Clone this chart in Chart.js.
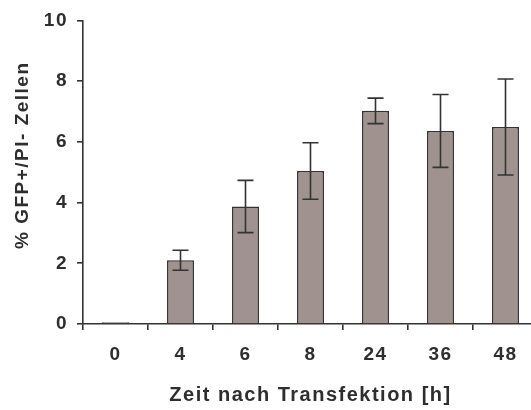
<!DOCTYPE html>
<html>
<head>
<meta charset="utf-8">
<script src="https://cdn.jsdelivr.net/npm/chart.js@4"></script>
<style>
  html, body { margin: 0; padding: 0; background: #fff; overflow: hidden; }
  /* Achse laeuft im Original rechts ueber den Rand hinaus */
  #wrap { width: 531px; height: 410px; overflow: hidden; }
</style>
</head>
<body>
<div id="wrap"><canvas id="gfpChart" width="538" height="410"></canvas></div>
<script>
// Daten
const zeiten = ['0', '4', '6', '8', '24', '36', '48'];
const mittelwerte = [0.06, 2.10, 3.87, 5.04, 7.02, 6.36, 6.49];
const fehler = [0, 0.33, 0.86, 0.93, 0.42, 1.2, 1.58];
const yTicks = [0, 2, 4, 6, 8, 10];

const textFarbe = '#2e2e2e';
const schrift = { family: 'Liberation Sans, Arial, sans-serif', weight: 'bold', size: 19 };
const titelSchriftX = { family: 'Liberation Sans, Arial, sans-serif', weight: 'bold', size: 20 };

// etwas breitere Laufweite wie im Original
const laufweite = {
    id: 'laufweite',
    beforeDraw(chart) { chart.ctx.letterSpacing = '1.5px'; }
};

// Fehlerbalken zeichnen (ueber die Skalen der Library)
const fehlerbalken = {
    id: 'fehlerbalken',
    afterDatasetsDraw(chart) {
        const ctx = chart.ctx;
        const x = chart.scales.x;
        const y = chart.scales.y;
        ctx.save();
        ctx.strokeStyle = '#333333';
        ctx.lineWidth = 1.6;
        mittelwerte.forEach((m, i) => {
            const e = fehler[i];
            if (!e) return;
            const px = x.getPixelForValue(i);
            const oben = y.getPixelForValue(m + e);
            const unten = y.getPixelForValue(m - e);
            ctx.beginPath();
            ctx.moveTo(px, oben);
            ctx.lineTo(px, unten);
            ctx.moveTo(px - 8, oben);
            ctx.lineTo(px + 8, oben);
            ctx.moveTo(px - 8, unten);
            ctx.lineTo(px + 8, unten);
            ctx.stroke();
        });
        ctx.restore();
    }
};

new Chart(document.getElementById('gfpChart'), {
    type: 'bar',
    data: {
        labels: zeiten,
        datasets: [{
            data: mittelwerte,
            backgroundColor: '#a0938f',
            borderColor: '#333333',
            borderWidth: 1.6,
            borderSkipped: 'bottom',
            categoryPercentage: 1,
            barPercentage: 0.415
        }]
    },
    options: {
        responsive: false,
        animation: false,
        layout: { padding: { top: 20, right: 0, left: 0, bottom: 0 } },
        plugins: {
            legend: { display: false },
            tooltip: { enabled: false }
        },
        scales: {
            x: {
                grid: {
                    offset: true,
                    drawOnChartArea: false,
                    drawTicks: true,
                    tickLength: 6,
                    color: '#333333',
                    lineWidth: 1.6
                },
                border: { color: '#333333', width: 1.6 },
                ticks: { color: textFarbe, font: schrift, padding: 13 },
                title: {
                    display: true,
                    text: 'Zeit nach Transfektion [h]',
                    color: textFarbe,
                    font: titelSchriftX,
                    padding: { top: 3, bottom: 3 }
                },
                afterFit(scale) { scale.height = 86; }
            },
            y: {
                min: 0,
                max: 10,
                afterBuildTicks(scale) { scale.ticks = yTicks.map(v => ({ value: v })); },
                grid: {
                    drawOnChartArea: false,
                    drawTicks: true,
                    tickLength: 6,
                    color: '#333333',
                    lineWidth: 1.6
                },
                border: { color: '#333333', width: 1.6 },
                ticks: { color: textFarbe, font: schrift, padding: 9 },
                title: {
                    display: true,
                    // fuehrende Leerzeichen: Titel sitzt im Original etwas hoeher
                    text: '     % GFP+/PI- Zellen',
                    color: textFarbe,
                    font: schrift,
                    padding: { top: 11, bottom: 11 }
                },
                afterFit(scale) { scale.width = 83; }
            }
        }
    },
    plugins: [laufweite, fehlerbalken]
});
</script>
</body>
</html>
